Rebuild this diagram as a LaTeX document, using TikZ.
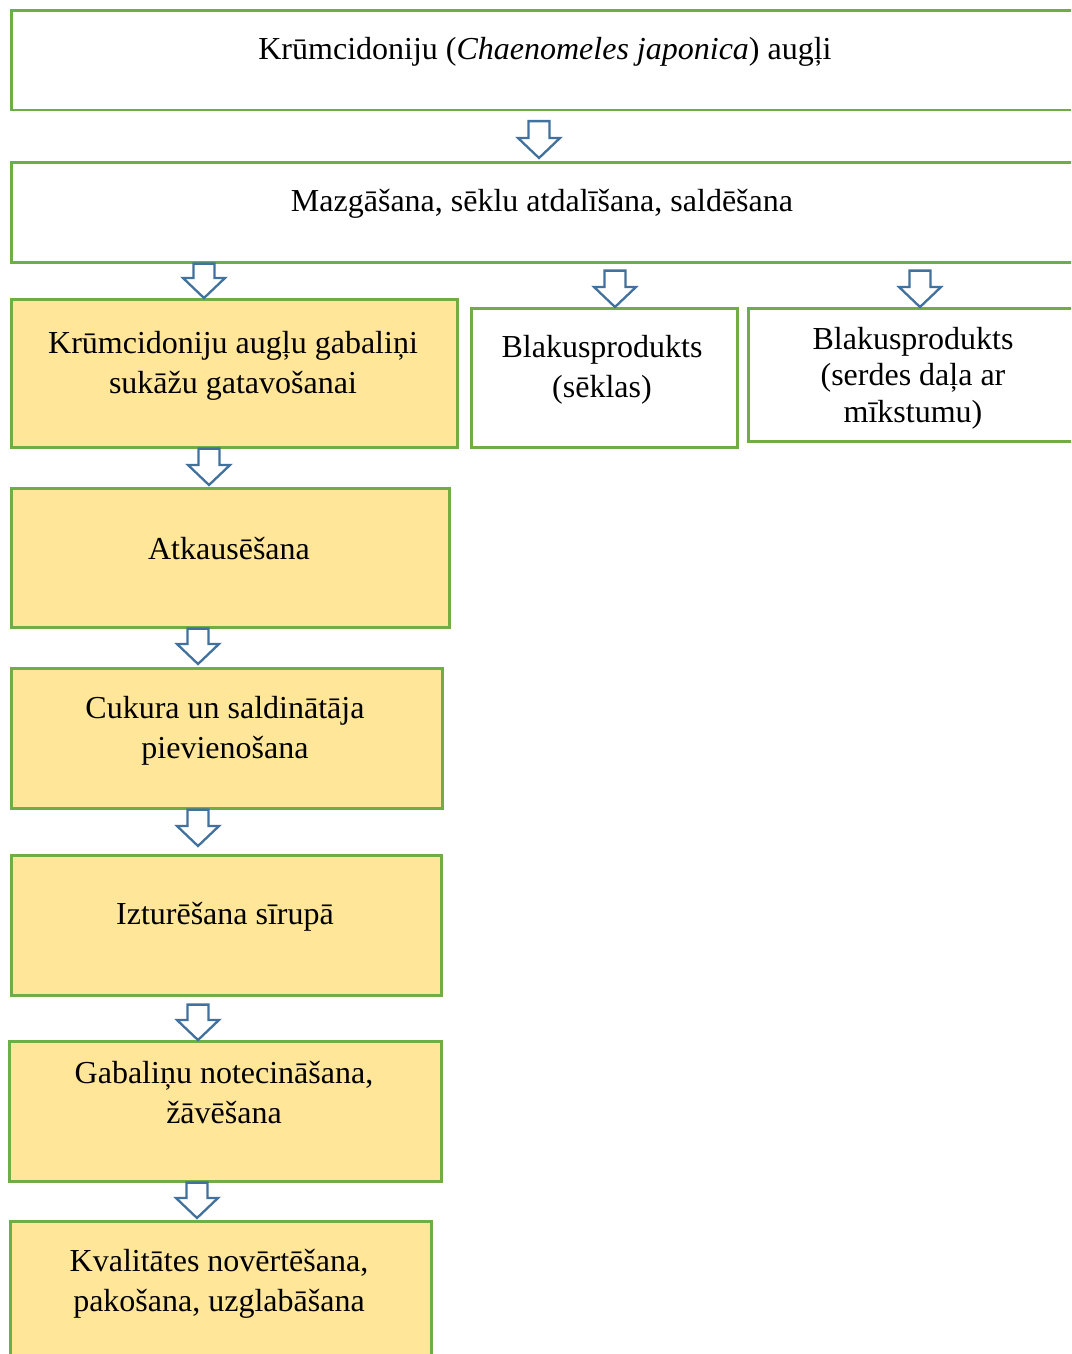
\documentclass[tikz,border=0pt]{standalone}
\usepackage{fontspec}
\setmainfont{Liberation Serif}
\usepackage{tikz}
\usetikzlibrary{calc,positioning}
\definecolor{boxgreen}{HTML}{70AD47}
\definecolor{boxgold}{HTML}{FFE699}
\definecolor{arrowblue}{HTML}{41719C}
\tikzset{
  box/.style={
    draw=boxgreen,
    line width=2.6pt,
    fill=white,
    anchor=north west,
    inner sep=0pt
  },
  goldbox/.style={
    box,
    fill=boxgold
  },
  txt/.style={
    font=\fontsize{32}{40}\selectfont,
    align=center,
    inner sep=0pt
  },
  % hollow block arrow: #1 gap below the upper box, #2 gap above the lower box
  hollow/.style 2 args={
    draw=arrowblue,
    line width=2.3pt,
    fill=white,
    line join=miter,
    to path={
      let \p1=(\tikztostart), \p2=(\tikztotarget) in
      (\x1-10.5pt,\y1-#1) -- (\x1+10.5pt,\y1-#1)
      -- (\x1+10.5pt,\y2+#2+20pt) -- (\x1+21pt,\y2+#2+20pt)
      -- (\x1,\y2+#2)
      -- (\x1-21pt,\y2+#2+20pt) -- (\x1-10.5pt,\y2+#2+20pt) -- cycle
    }
  }
}

\begin{document}
\begin{tikzpicture}[x=1pt,y=-1pt]
\clip (0,0) rectangle (1071,1354);
\fill[white] (0,0) rectangle (1071,1354);

% boxes
\node[box, minimum width=1069pt, minimum height=99pt] (fruit) at (10,9.5) {};
\node[box, minimum width=1069pt, minimum height=100pt] (wash) at (10,161) {};
\node[goldbox, minimum width=446pt, minimum height=148pt] (pieces) at (10,298) {};
\node[box, minimum width=266pt, minimum height=139pt] (seeds) at (470,307) {};
\node[box, minimum width=332pt, minimum height=133pt] (cores) at (747,307) {};
\node[goldbox, minimum width=438pt, minimum height=139pt] (thaw) at (10,487) {};
\node[goldbox, minimum width=431pt, minimum height=140pt] (sugar) at (10,667) {};
\node[goldbox, minimum width=430pt, minimum height=140pt] (syrup) at (10,854) {};
\node[goldbox, minimum width=432pt, minimum height=140pt] (drain) at (8,1040) {};
\node[goldbox, minimum width=421pt, minimum height=170pt] (pack) at (9,1220) {};

% texts
\node[txt] (tfruit) at (545,52) {Krūmcidoniju (\textit{Chaenomeles japonica}) augļi};
\node[txt] (twash) at (542,204) {Mazgāšana, sēklu atdalīšana, saldēšana};
\node[txt] (tpieces) at (233,366) {Krūmcidoniju augļu gabaliņi\\sukāžu gatavošanai};
\node[txt] (tseeds) at (602,370) {Blakusprodukts\\(sēklas)};
\node[txt, font=\fontsize{32}{36.5}\selectfont] (tcores) at (913,378) {Blakusprodukts\\(serdes daļa ar\\mīkstumu)};
\node[txt] (tthaw) at (229,549) {Atkausēšana};
\node[txt] (tsugar) at (225,731) {Cukura un saldinātāja\\pievienošana};
\node[txt] (tsyrup) at (225,917) {Izturēšana sīrupā};
\node[txt] (tdrain) at (224,1093) {Gabaliņu notecināšana,\\žāvēšana};
\node[txt] (tpack) at (219,1284) {Kvalitātes novērtēšana,\\pakošana, uzglabāšana};

% arrows
\draw[hollow={10pt}{3pt}] ([xshift=529pt]fruit.south west) to (wash.north);
\draw[hollow={0pt}{0pt}] ([xshift=194pt]wash.south west) to (pieces.north);
\draw[hollow={7pt}{0pt}] ([xshift=605pt]wash.south west) to (seeds.north);
\draw[hollow={7pt}{0pt}] ([xshift=910pt]wash.south west) to (cores.north);
\draw[hollow={0pt}{2pt}] ([xshift=199pt]pieces.south west) to (thaw.north);
\draw[hollow={0pt}{3pt}] ([xshift=188pt]thaw.south west) to (sugar.north);
\draw[hollow={0pt}{8pt}] ([xshift=188pt]sugar.south west) to (syrup.north);
\draw[hollow={8pt}{0pt}] ([xshift=188pt]syrup.south west) to (drain.north);
\draw[hollow={0pt}{2pt}] ([xshift=189pt]drain.south west) to (pack.north);
\end{tikzpicture}
\end{document}
